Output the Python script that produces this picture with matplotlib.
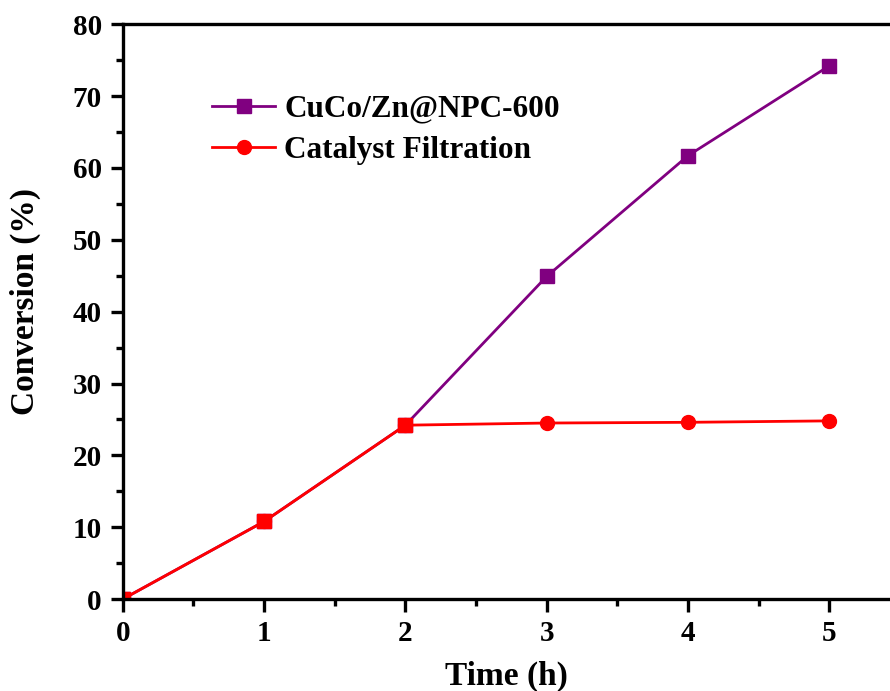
import matplotlib.pyplot as plt
import numpy as np

plt.rcParams['font.family'] = ['Liberation Serif', 'DejaVu Serif']
plt.rcParams['font.weight'] = 'bold'

time_h = [0, 1, 2, 3, 4, 5]
conv_catalyst = [0, 10.8, 24.2, 44.9, 61.7, 74.2]
conv_filtration = [0, 10.8, 24.2, 24.5, 24.6, 24.8]

fig = plt.figure(figsize=(8.9, 6.91), dpi=100)
ax = fig.add_axes([0.138, 0.133, 0.862, 0.832])

ax.plot(time_h, conv_catalyst, color='#800080', lw=2, marker='s', ms=9.5,
        label='CuCo/Zn@NPC-600')
ax.plot(time_h, conv_filtration, color='#FF0000', lw=2, marker='o', ms=10,
        label='Catalyst Filtration')

# where both runs share a point the reference shows a red square
same = [i for i in range(len(time_h)) if conv_catalyst[i] == conv_filtration[i]]
ax.plot([time_h[i] for i in same], [conv_filtration[i] for i in same],
        ls='none', marker='s', ms=9.5, color='#FF0000')

ax.set_xlim(0, 5.43)
ax.set_ylim(0, 80)
ax.set_xticks(np.arange(0, 6, 1))
ax.set_xticks(np.arange(0.5, 5.5, 1), minor=True)
ax.set_yticks(np.arange(0, 90, 10))
ax.set_yticks(np.arange(5, 80, 10), minor=True)

ax.spines['right'].set_visible(False)
for s in ['left', 'bottom', 'top']:
    ax.spines[s].set_linewidth(2.4)
ax.tick_params(which='major', direction='out', length=9, width=2.4, labelsize=21, pad=6)
ax.tick_params(which='minor', direction='out', length=5, width=2.4)
ax.tick_params(top=False, right=False)

ax.set_xlabel('Time (h)', fontsize=24, fontweight='bold', labelpad=10)
ax.set_ylabel('Conversion (%)', fontsize=24, fontweight='bold')
ax.yaxis.set_label_coords(-0.106, 0.518)

ax.legend(loc='upper left', bbox_to_anchor=(0.08, 0.926), frameon=False,
          fontsize=22.5, handlelength=2.0, handletextpad=0.3, labelspacing=0.38)

fig.savefig('out.png', dpi=100)
